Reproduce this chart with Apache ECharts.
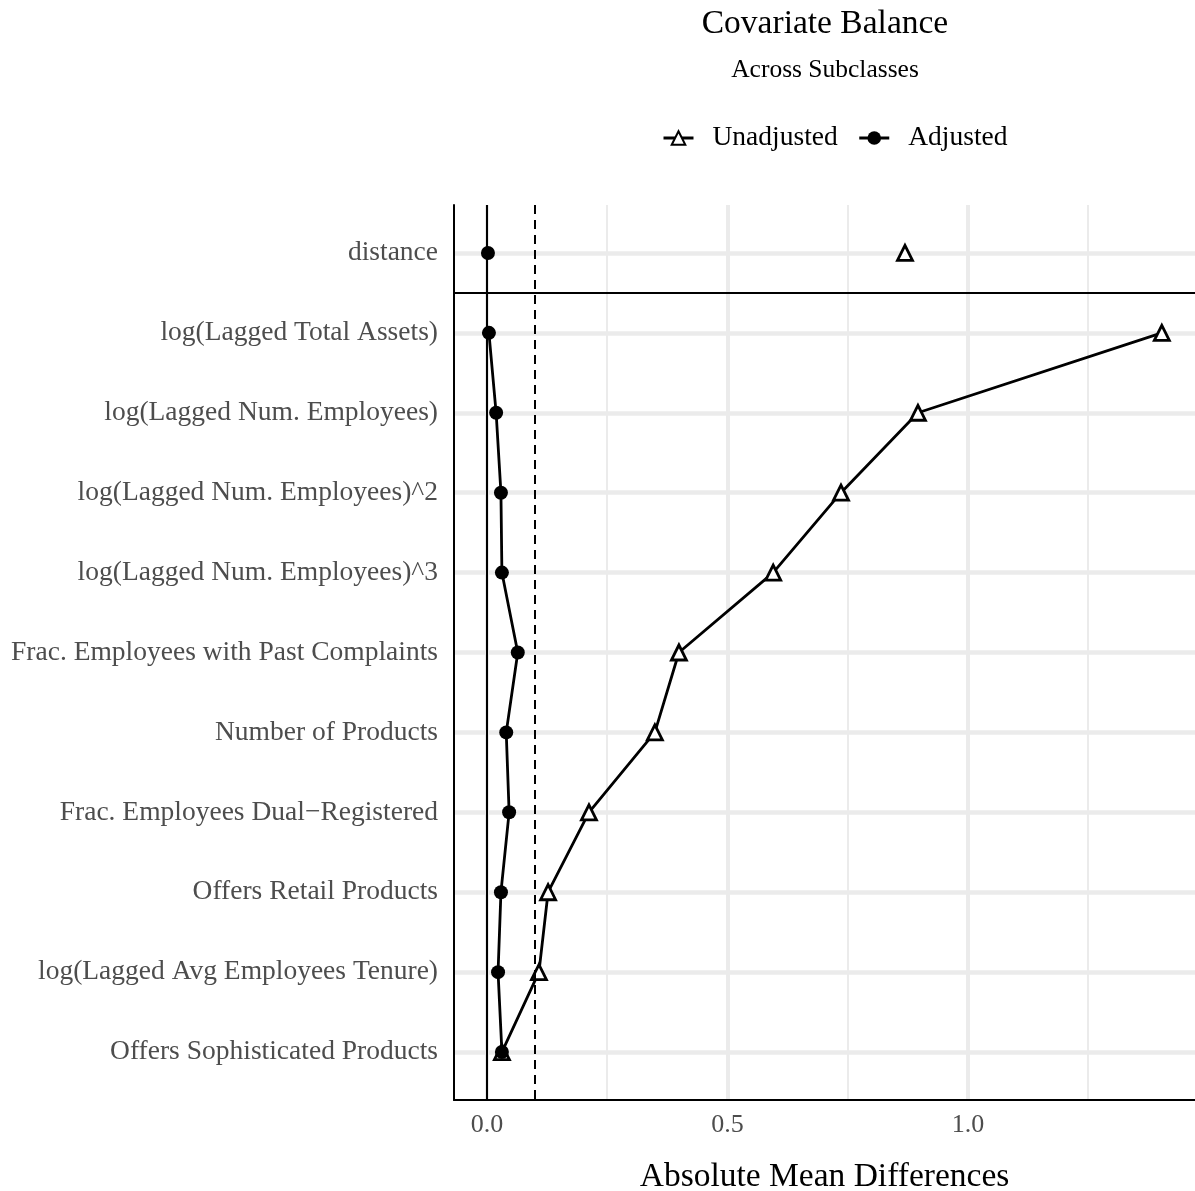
<!DOCTYPE html>
<html>
<head>
<meta charset="utf-8">
<script src="https://cdn.jsdelivr.net/npm/echarts@6/dist/echarts.min.js"></script>
<style>html,body{margin:0;padding:0;background:#fff;}#c{width:1195px;height:1191px;}</style>
</head>
<body>
<div id="c"></div>
<script>
var categories = [
  'distance',
  'log(Lagged Total Assets)',
  'log(Lagged Num. Employees)',
  'log(Lagged Num. Employees)^2',
  'log(Lagged Num. Employees)^3',
  'Frac. Employees with Past Complaints',
  'Number of Products',
  'Frac. Employees Dual\u2212Registered',
  'Offers Retail Products',
  'log(Lagged Avg Employees Tenure)',
  'Offers Sophisticated Products'
];
var unadjusted = [0.869, 1.403, 0.896, 0.736, 0.595, 0.399, 0.349, 0.212, 0.127, 0.108, 0.031];
var adjusted   = [0.002, 0.004, 0.019, 0.029, 0.031, 0.064, 0.040, 0.046, 0.029, 0.023, 0.031];
var xMajorTicks = [0, 0.5, 1.0];
var xMinorTicks = [0.25, 0.75, 1.25];
var threshold = 0.1;

var FONT = '"Liberation Serif", "DejaVu Serif", serif';
var yIdx = categories.map(function (c, i) { return i; });
function pts(arr, from, to) {
  var out = [];
  for (var i = from; i < (to == null ? arr.length : to); i++) out.push([arr[i], i]);
  return out;
}

var chart = echarts.init(document.getElementById('c'));
chart.setOption({
  animation: false,
  backgroundColor: '#fff',
  title: [
    { text: 'Covariate Balance', left: 820, top: 2, textAlign: 'center',
      textStyle: { fontFamily: FONT, fontSize: 33.5, fontWeight: 'normal', color: '#000' } },
    { text: 'Across Subclasses', left: 820, top: 52, textAlign: 'center',
      textStyle: { fontFamily: FONT, fontSize: 25.5, fontWeight: 'normal', color: '#000' } }
  ],
  legend: {
    left: 657, top: 119,
    itemWidth: 30, itemHeight: 17, itemGap: 20,
    lineStyle: { width: 3, color: '#000' },
    textStyle: { fontFamily: FONT, fontSize: 27.5, color: '#000', padding: [0, 0, 0, 14] },
    data: ['Unadjusted', 'Adjusted']
  },
  grid: { left: 454, right: 0, top: 205, bottom: 91, containLabel: false, outerBoundsMode: 'none' },
  xAxis: [{
    type: 'value', min: -0.0686, max: 1.472,
    name: 'Absolute Mean Differences', nameLocation: 'middle', nameGap: 60,
    nameTextStyle: { fontFamily: FONT, fontSize: 33.5, color: '#000' },
    axisLine: { show: true, onZero: false, lineStyle: { color: '#000', width: 2 } },
    axisTick: { show: false, customValues: xMajorTicks },
    axisLabel: { customValues: xMajorTicks, fontFamily: FONT, fontSize: 26, color: '#4d4d4d', margin: 12,
      formatter: function (v) { return v.toFixed(1); } },
    splitLine: { show: true, lineStyle: { color: '#ebebeb', width: 4 } }
  }, {
    type: 'value', min: -0.0686, max: 1.472,
    axisLine: { show: false },
    axisTick: { show: false, customValues: xMinorTicks },
    axisLabel: { show: false, customValues: xMinorTicks },
    splitLine: { show: true, lineStyle: { color: '#ebebeb', width: 2 } }
  }],
  yAxis: {
    type: 'value', inverse: true, min: -0.6, max: 10.6,
    axisLine: { show: true, onZero: false, lineStyle: { color: '#000', width: 2 } },
    axisTick: { show: false, customValues: yIdx },
    axisLabel: { customValues: yIdx, fontFamily: FONT, fontSize: 27.5, color: '#4d4d4d', margin: 16,
      padding: [4, 0, 0, 0],
      formatter: function (v) { return categories[Math.round(v)]; } },
    splitLine: { show: true, lineStyle: { color: '#ebebeb', width: 4.5 } }
  },
  series: [
    {
      name: 'Unadjusted', type: 'line', data: pts(unadjusted, 1),
      symbol: 'triangle', symbolSize: 15,
      lineStyle: { color: '#000', width: 2.8 },
      itemStyle: { color: '#fff', borderColor: '#000', borderWidth: 2.8, opacity: 1 },
      z: 3,
      markLine: {
        silent: true, symbol: 'none', label: { show: false },
        data: [
          { xAxis: 0, lineStyle: { color: '#000', width: 2, type: 'solid' } },
          { xAxis: threshold, lineStyle: { color: '#000', width: 2, type: [9, 6] } },
          { yAxis: 0.5, lineStyle: { color: '#000', width: 2.2, type: 'solid' } }
        ]
      }
    },
    {
      name: 'Unadjusted', type: 'scatter', data: pts(unadjusted, 0, 1),
      symbol: 'triangle', symbolSize: 15,
      itemStyle: { color: '#fff', borderColor: '#000', borderWidth: 2.8, opacity: 1 },
      z: 3
    },
    {
      name: 'Adjusted', type: 'line', data: pts(adjusted, 1),
      symbol: 'circle', symbolSize: 14,
      lineStyle: { color: '#000', width: 2.8 },
      itemStyle: { color: '#000', borderColor: '#000', borderWidth: 0, opacity: 1 },
      z: 4
    },
    {
      name: 'Adjusted', type: 'scatter', data: pts(adjusted, 0, 1),
      symbol: 'circle', symbolSize: 14,
      itemStyle: { color: '#000', opacity: 1 },
      z: 4
    }
  ]
});
</script>
</body>
</html>
